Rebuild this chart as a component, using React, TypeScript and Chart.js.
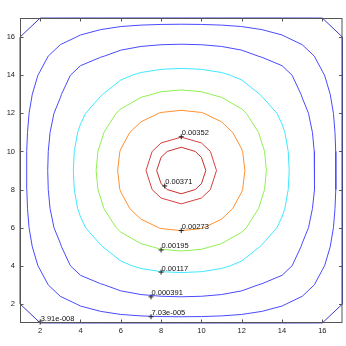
import { useEffect, useRef } from "react";
import { Chart, registerables } from "chart.js";
Chart.register(...registerables);

// grid coordinates
const xGrid = [1, 2, 3, 4, 5, 6, 7, 8, 9, 10, 11, 12, 13, 14, 15, 16, 17];
const yGrid = [1, 2, 3, 4, 5, 6, 7, 8, 9, 10, 11, 12, 13, 14, 15, 16, 17];
// field values (units of 1e-4), rows follow yGrid, columns follow xGrid
const Z_UNIT = 1e-4;
const zGrid = [
  [0, 0, 0, 0, 0, 0, 0, 0, 0, 0, 0, 0, 0, 0, 0, 0, 0],
  [0, 0.118, 0.376, 0.79, 1.153, 1.566, 1.886, 2.08, 2.15, 2.08, 1.886, 1.566, 1.153, 0.79, 0.376, 0.118, 0],
  [0, 0.376, 1.196, 2.52, 3.67, 4.98, 6.0, 6.63, 6.84, 6.63, 6.0, 4.98, 3.67, 2.52, 1.196, 0.376, 0],
  [0, 0.79, 2.52, 5.29, 7.72, 10.48, 12.63, 13.95, 14.38, 13.95, 12.63, 10.48, 7.72, 5.29, 2.52, 0.79, 0],
  [0, 1.153, 3.67, 7.72, 11.27, 15.29, 18.42, 20.35, 20.98, 20.35, 18.42, 15.29, 11.27, 7.72, 3.67, 1.153, 0],
  [0, 1.566, 4.98, 10.48, 15.29, 20.76, 25.01, 27.63, 28.48, 27.63, 25.01, 20.76, 15.29, 10.48, 4.98, 1.566, 0],
  [0, 1.886, 6.0, 12.63, 18.42, 25.01, 30.12, 33.27, 34.3, 33.27, 30.12, 25.01, 18.42, 12.63, 6.0, 1.886, 0],
  [0, 2.08, 6.63, 13.95, 20.35, 27.63, 33.27, 36.75, 37.89, 36.75, 33.27, 27.63, 20.35, 13.95, 6.63, 2.08, 0],
  [0, 2.15, 6.84, 14.38, 20.98, 28.48, 34.3, 37.89, 39.06, 37.89, 34.3, 28.48, 20.98, 14.38, 6.84, 2.15, 0],
  [0, 2.08, 6.63, 13.95, 20.35, 27.63, 33.27, 36.75, 37.89, 36.75, 33.27, 27.63, 20.35, 13.95, 6.63, 2.08, 0],
  [0, 1.886, 6.0, 12.63, 18.42, 25.01, 30.12, 33.27, 34.3, 33.27, 30.12, 25.01, 18.42, 12.63, 6.0, 1.886, 0],
  [0, 1.566, 4.98, 10.48, 15.29, 20.76, 25.01, 27.63, 28.48, 27.63, 25.01, 20.76, 15.29, 10.48, 4.98, 1.566, 0],
  [0, 1.153, 3.67, 7.72, 11.27, 15.29, 18.42, 20.35, 20.98, 20.35, 18.42, 15.29, 11.27, 7.72, 3.67, 1.153, 0],
  [0, 0.79, 2.52, 5.29, 7.72, 10.48, 12.63, 13.95, 14.38, 13.95, 12.63, 10.48, 7.72, 5.29, 2.52, 0.79, 0],
  [0, 0.376, 1.196, 2.52, 3.67, 4.98, 6.0, 6.63, 6.84, 6.63, 6.0, 4.98, 3.67, 2.52, 1.196, 0.376, 0],
  [0, 0.118, 0.376, 0.79, 1.153, 1.566, 1.886, 2.08, 2.15, 2.08, 1.886, 1.566, 1.153, 0.79, 0.376, 0.118, 0],
  [0, 0, 0, 0, 0, 0, 0, 0, 0, 0, 0, 0, 0, 0, 0, 0, 0],
];

const levels = [3.91e-8, 7.03e-5, 3.91e-4, 1.17e-3, 1.95e-3, 2.73e-3, 3.52e-3, 3.71e-3];
const levelColors = ["#3c3cc8", "#4a4aff", "#4a4aff", "#40e8ff", "#90f050", "#ff9030", "#d84040", "#c83030"];

const labelText = ["3.91e-008", "7.03e-005", "0.000391", "0.00117", "0.00195", "0.00273", "0.00352", "0.00371"];
const labelX = [2, 7.5, 7.5, 8, 8, 9, 9, 8.18];
const labelY = [1.05, 1.33, 2.37, 3.67, 4.83, 5.85, 10.77, 8.19];

const xTicks = [2, 4, 6, 8, 10, 12, 14, 16];
const yTicks = [2, 4, 6, 8, 10, 12, 14, 16];

const FONT = '"Liberation Sans", Arial, sans-serif';

type P = { x: number; y: number };

function contourLines(level: number): P[][] {
  const segs: { ka: string; kb: string; pa: P; pb: P }[] = [];
  const nx = xGrid.length;
  const ny = yGrid.length;
  const val = (i: number, j: number) => zGrid[j][i] * Z_UNIT;
  const interp = (x1: number, y1: number, v1: number, x2: number, y2: number, v2: number): P => {
    const t = (level - v1) / (v2 - v1);
    return { x: x1 + t * (x2 - x1), y: y1 + t * (y2 - y1) };
  };
  for (let j = 0; j < ny - 1; j++) {
    for (let i = 0; i < nx - 1; i++) {
      const x0 = xGrid[i], x1 = xGrid[i + 1], y0 = yGrid[j], y1 = yGrid[j + 1];
      const a = val(i, j), b = val(i + 1, j), c = val(i + 1, j + 1), d = val(i, j + 1);
      const pts: { k: string; p: P }[] = [];
      if ((a >= level) !== (b >= level)) pts.push({ k: `h${i},${j}`, p: interp(x0, y0, a, x1, y0, b) });
      if ((b >= level) !== (c >= level)) pts.push({ k: `v${i + 1},${j}`, p: interp(x1, y0, b, x1, y1, c) });
      if ((d >= level) !== (c >= level)) pts.push({ k: `h${i},${j + 1}`, p: interp(x0, y1, d, x1, y1, c) });
      if ((a >= level) !== (d >= level)) pts.push({ k: `v${i},${j}`, p: interp(x0, y0, a, x0, y1, d) });
      const add = (m: number, n: number) => segs.push({ ka: pts[m].k, kb: pts[n].k, pa: pts[m].p, pb: pts[n].p });
      if (pts.length === 2) add(0, 1);
      else if (pts.length === 4) {
        const center = (a + b + c + d) / 4;
        if ((a >= level) !== (center >= level)) { add(0, 3); add(1, 2); }
        else { add(0, 1); add(2, 3); }
      }
    }
  }
  const byKey = new Map<string, number[]>();
  segs.forEach((s, idx) => {
    [s.ka, s.kb].forEach((k) => {
      if (!byKey.has(k)) byKey.set(k, []);
      byKey.get(k)!.push(idx);
    });
  });
  const used = new Array(segs.length).fill(false);
  const lines: P[][] = [];
  for (let s0 = 0; s0 < segs.length; s0++) {
    if (used[s0]) continue;
    used[s0] = true;
    const line: P[] = [segs[s0].pa, segs[s0].pb];
    // forward
    let key = segs[s0].kb;
    for (;;) {
      const next = (byKey.get(key) || []).find((n) => !used[n]);
      if (next === undefined) break;
      used[next] = true;
      const s = segs[next];
      if (s.ka === key) { line.push(s.pb); key = s.kb; } else { line.push(s.pa); key = s.ka; }
    }
    // backward
    key = segs[s0].ka;
    for (;;) {
      const next = (byKey.get(key) || []).find((n) => !used[n]);
      if (next === undefined) break;
      used[next] = true;
      const s = segs[next];
      if (s.ka === key) { line.unshift(s.pb); key = s.kb; } else { line.unshift(s.pa); key = s.ka; }
    }
    lines.push(line);
  }
  return lines;
}

const boxPlugin = {
  id: "matlabBox",
  afterDatasetsDraw(chart: any) {
    const { ctx, chartArea: a, scales } = chart;
    const x = scales.x;
    const y = scales.y;
    ctx.save();
    ctx.strokeStyle = "#555";
    ctx.lineWidth = 1;
    ctx.strokeRect(a.left + 0.5, a.top + 0.5, a.right - a.left - 1, a.bottom - a.top - 1);
    ctx.beginPath();
    const tl = 3.5;
    for (const v of xTicks) {
      const px = Math.round(x.getPixelForValue(v)) + 0.5;
      ctx.moveTo(px, a.bottom);
      ctx.lineTo(px, a.bottom - tl);
      ctx.moveTo(px, a.top);
      ctx.lineTo(px, a.top + tl);
    }
    for (const v of yTicks) {
      const py = Math.round(y.getPixelForValue(v)) + 0.5;
      ctx.moveTo(a.left, py);
      ctx.lineTo(a.left + tl, py);
      ctx.moveTo(a.right, py);
      ctx.lineTo(a.right - tl, py);
    }
    ctx.stroke();
    ctx.fillStyle = "#111";
    ctx.font = `7.5px ${FONT}`;
    ctx.textAlign = "left";
    ctx.textBaseline = "alphabetic";
    labelText.forEach((t, i) => {
      const px = x.getPixelForValue(labelX[i]);
      const py = y.getPixelForValue(labelY[i]);
      ctx.fillText(t, px + 0.5, py - 1.5);
    });
    ctx.restore();
  },
};

export default function App() {
  const ref = useRef<HTMLCanvasElement>(null);
  useEffect(() => {
    const datasets: any[] = [];
    datasets.push({
      data: labelX.map((v, i) => ({ x: v, y: labelY[i] })),
      pointStyle: "cross",
      pointRadius: 2.5,
      pointHoverRadius: 2.5,
      borderColor: "#222",
      borderWidth: 1,
      showLine: false,
      order: -1,
      clip: 6,
    });
    levels.forEach((L, li) => {
      contourLines(L).forEach((line) => {
        datasets.push({
          data: line,
          showLine: true,
          borderColor: levelColors[li],
          borderWidth: 1,
          pointRadius: 0,
          pointHoverRadius: 0,
          fill: false,
          tension: 0,
          clip: 6,
        });
      });
    });
    const tickFont = { family: FONT, size: 7.5 };
    const chart = new Chart(ref.current as HTMLCanvasElement, {
      type: "scatter",
      data: { datasets },
      options: {
        animation: false,
        responsive: false,
        devicePixelRatio: 1,
        events: [],
        layout: { padding: { top: 18, right: 3, left: 0, bottom: 0 } },
        plugins: { legend: { display: false }, tooltip: { enabled: false } },
        scales: {
          x: {
            type: "linear",
            min: 1,
            max: 17,
            afterBuildTicks: (s: any) => { s.ticks = xTicks.map((v) => ({ value: v })); },
            afterFit: (s: any) => { s.height = 23; },
            grid: { display: false, drawTicks: false },
            border: { display: false },
            ticks: { font: tickFont, color: "#222", padding: 3, maxRotation: 0, autoSkip: false },
          },
          y: {
            type: "linear",
            min: 1,
            max: 17,
            afterBuildTicks: (s: any) => { s.ticks = yTicks.map((v) => ({ value: v })); },
            afterFit: (s: any) => { s.width = 20; },
            grid: { display: false, drawTicks: false },
            border: { display: false },
            ticks: { font: tickFont, color: "#222", padding: 5, autoSkip: false },
          },
        },
      } as any,
      plugins: [boxPlugin],
    });
    return () => chart.destroy();
  }, []);
  return (
    <div style={{ position: "fixed", left: 0, top: 0, width: 346, height: 346, background: "#fff" }}>
      <canvas ref={ref} width={346} height={346} style={{ display: "block" }} />
    </div>
  );
}
